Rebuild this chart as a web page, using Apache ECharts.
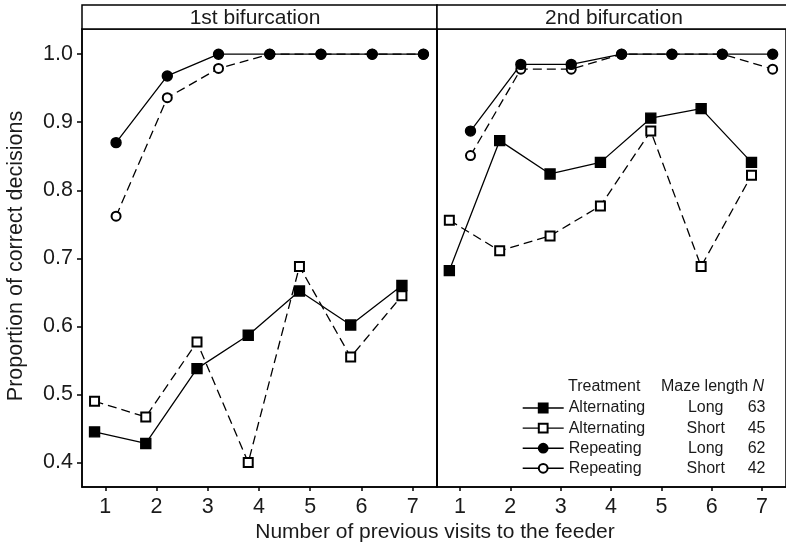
<!DOCTYPE html>
<html>
<head>
<meta charset="utf-8">
<script src="https://cdn.jsdelivr.net/npm/echarts@6/dist/echarts.min.js"></script>
<style>html,body{margin:0;padding:0;background:#fff}#c{width:786px;height:548px}</style>
</head>
<body>
<div id="c"></div>
<script>
// ---- data ----
const visits = [1, 2, 3, 4, 5, 6, 7];
const xTicks = [1, 2, 3, 4, 5, 6, 7];
const yTicks = [0.4, 0.5, 0.6, 0.7, 0.8, 0.9, 1.0];
const panels = ['1st bifurcation', '2nd bifurcation'];
const seriesNames = ['Alternating Long', 'Alternating Short', 'Repeating Long', 'Repeating Short'];
const legendTreatment = ['Alternating', 'Alternating', 'Repeating', 'Repeating'];
const legendLength = ['Long', 'Short', 'Long', 'Short'];
const legendN = [63, 45, 62, 42];

const altLong1  = [0.445, 0.428, 0.538, 0.587, 0.652, 0.602, 0.660];
const altShort1 = [0.490, 0.467, 0.577, 0.400, 0.688, 0.555, 0.645];
const repLong1  = [0.870, 0.968, 1.000, 1.000, 1.000, 1.000, 1.000];
const repShort1 = [0.762, 0.936, 0.979, 1.000, 1.000, 1.000, 1.000];

const altLong2  = [0.682, 0.873, 0.824, 0.841, 0.906, 0.920, 0.841];
const altShort2 = [0.756, 0.711, 0.733, 0.777, 0.887, 0.688, 0.822];
const repLong2  = [0.887, 0.985, 0.985, 1.000, 1.000, 1.000, 1.000];
const repShort2 = [0.851, 0.978, 0.978, 1.000, 1.000, 1.000, 0.978];

// ---- chart ----
const FONT = 'Liberation Sans, Arial, sans-serif';
const TXT = '#1a1a1a';
const dodge = 0.21;
const panelData = [
  [altLong1, altShort1, repLong1, repShort1],
  [altLong2, altShort2, repLong2, repShort2]
];
const offsets = [-dodge, -dodge, dodge, dodge];
const symbols = ['rect', 'emptyRect', 'circle', 'emptyCircle'];
const sizes = [10, 9, 10, 9];
const dashes = ['solid', [9, 5], 'solid', [9, 5]];
const drawOrder = [1, 3, 0, 2]; // open markers first, filled on top

const chart = echarts.init(document.getElementById('c'), null, {renderer: 'canvas'});

const grids = [
  {left: 82, top: 29, right: 349, bottom: 61},
  {left: 437, top: 29, right: -6, bottom: 61}
].map(g => Object.assign(g, {show: true, borderColor: '#000', borderWidth: 1.5, containLabel: false}));

const xAxes = [0, 1].map(i => ({
  type: 'value', gridIndex: i, min: 0.545, max: 7.475,
  axisLine: {show: true, onZero: false, lineStyle: {color: '#000', width: 1.5}},
  axisTick: {show: true, length: 4, inside: false, customValues: xTicks, lineStyle: {color: '#000', width: 1.5}},
  axisLabel: {show: true, customValues: xTicks, margin: 9, fontSize: 21.5, color: TXT, fontFamily: FONT},
  splitLine: {show: false}
}));

const yAxes = [0, 1].map(i => ({
  type: 'value', gridIndex: i, min: 0.364, max: 1.037,
  axisLine: {show: true, onZero: false, lineStyle: {color: '#000', width: 1.5}},
  axisTick: {show: i === 0, length: 5, customValues: yTicks, lineStyle: {color: '#000', width: 1.5}},
  axisLabel: {show: i === 0, customValues: yTicks, margin: 9, fontSize: 21.5, color: TXT, fontFamily: FONT,
              formatter: v => v.toFixed(1)},
  splitLine: {show: false}
}));

const series = [];
[0, 1].forEach(p => {
  drawOrder.forEach(k => {
    series.push({
      type: 'line', name: seriesNames[k], xAxisIndex: p, yAxisIndex: p,
      data: visits.map((v, j) => [v + offsets[k], panelData[p][k][j]]),
      symbol: symbols[k], symbolSize: sizes[k], showAllSymbol: true,
      lineStyle: {color: '#000', width: 1.3, type: dashes[k]},
      itemStyle: {color: '#000', borderColor: '#000', borderWidth: 1.4},
      emphasis: {disabled: true}, animation: false, z: 2
    });
  });
});

const legendRich = {
  t: {width: 117, fontSize: 16, color: TXT, fontFamily: FONT, lineHeight: 18},
  m: {width: 40, align: 'center', fontSize: 16, color: TXT, fontFamily: FONT, lineHeight: 18},
  n: {fontSize: 16, color: TXT, fontFamily: FONT, padding: [0, 0, 0, 22], lineHeight: 18}
};

const option = {
  backgroundColor: '#fff',
  animation: false,
  grid: grids,
  xAxis: xAxes,
  yAxis: yAxes,
  series: series,
  legend: {
    data: seriesNames, orient: 'vertical', left: 517, top: 395,
    itemWidth: 41, itemHeight: 11, itemGap: 4.1, selectedMode: false,
    lineStyle: {type: 'solid', width: 1.4, color: '#000'},
    formatter: name => {
      const k = seriesNames.indexOf(name);
      return '{t|' + legendTreatment[k] + '}{m|' + legendLength[k] + '}{n|' + legendN[k] + '}';
    },
    textStyle: {rich: legendRich, fontSize: 16, fontFamily: FONT, color: TXT}
  },
  graphic: [
    {type: 'rect', shape: {x: 82, y: 5, width: 355, height: 24}, style: {fill: '#fff', stroke: '#000', lineWidth: 1.5}, z: 10},
    {type: 'rect', shape: {x: 437, y: 5, width: 360, height: 24}, style: {fill: '#fff', stroke: '#000', lineWidth: 1.5}, z: 10},
    {type: 'text', x: 255, y: 18, style: {text: panels[0], fontSize: 21, fontFamily: FONT, fill: TXT, align: 'center', verticalAlign: 'middle'}, z: 11},
    {type: 'text', x: 614, y: 18, style: {text: panels[1], fontSize: 21, fontFamily: FONT, fill: TXT, align: 'center', verticalAlign: 'middle'}, z: 11},
    {type: 'text', x: 435, y: 532, style: {text: 'Number of previous visits to the feeder', fontSize: 21, fontFamily: FONT, fill: TXT, align: 'center', verticalAlign: 'middle'}, z: 11},
    {type: 'text', x: 16, y: 256, rotation: Math.PI / 2, style: {text: 'Proportion of correct decisions', fontSize: 21.5, fontFamily: FONT, fill: TXT, align: 'center', verticalAlign: 'middle'}, z: 11},
    {type: 'text', x: 568, y: 387, style: {
      text: '{a|Treatment}{b|Maze length }{n|N}', verticalAlign: 'middle',
      rich: {
        a: {width: 93, fontSize: 16, fontFamily: FONT, fill: TXT, color: TXT},
        b: {fontSize: 16, fontFamily: FONT, fill: TXT, color: TXT},
        n: {fontSize: 16, fontFamily: FONT, fontStyle: 'italic', fill: TXT, color: TXT}
      }
    }, z: 11}
  ]
};
chart.setOption(option);
</script>
</body>
</html>
